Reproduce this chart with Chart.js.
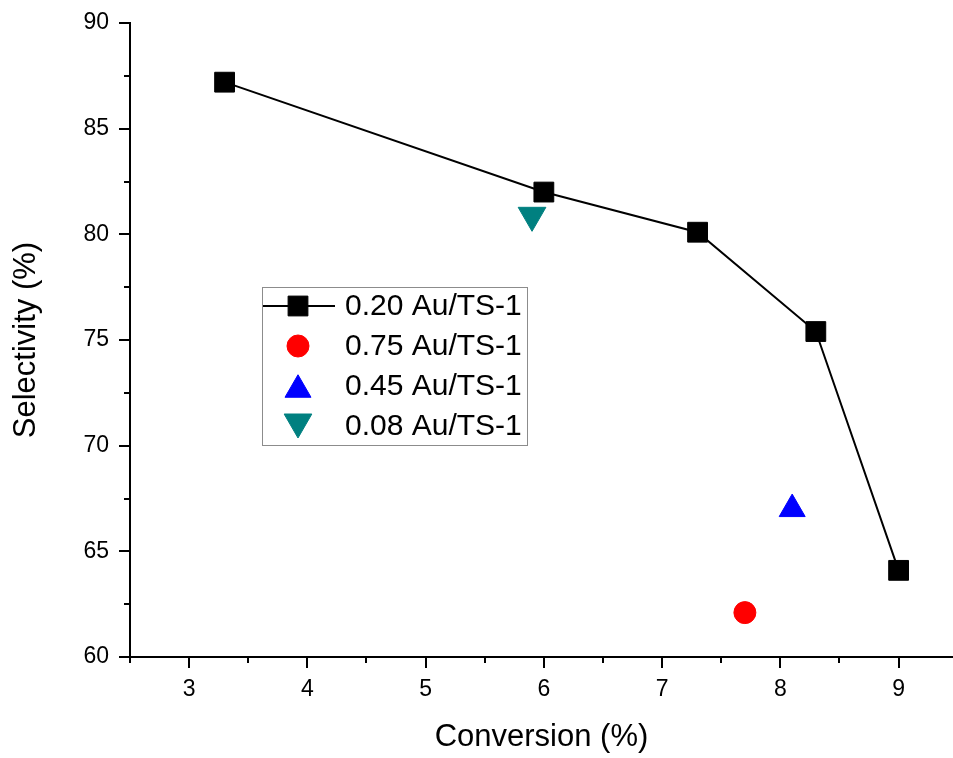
<!DOCTYPE html>
<html>
<head>
<meta charset="utf-8">
<script src="https://cdn.jsdelivr.net/npm/chart.js@4.4.1/dist/chart.umd.min.js"></script>
<style>
  html, body { margin: 0; padding: 0; background: #fff; overflow: hidden; }
  #wrap { position: relative; width: 953px; height: 758px; }
  canvas { display: block; }
</style>
</head>
<body>
<div id="wrap"><canvas id="selChart"></canvas></div>
<script>
// values
const seriesNames = ['0.20 Au/TS-1', '0.75 Au/TS-1', '0.45 Au/TS-1', '0.08 Au/TS-1'];
const conv020 = [3.3, 6.0, 7.3, 8.3, 9.0];
const sel020 = [87.2, 82.0, 80.1, 75.4, 64.1];
const conv075 = [7.7];
const sel075 = [62.1];
const conv045 = [8.1];
const sel045 = [67.0];
const conv008 = [5.9];
const sel008 = [80.9];
const xTicks = [3, 4, 5, 6, 7, 8, 9];
const yTicks = [60, 65, 70, 75, 80, 85, 90];

const FONT = "'Liberation Sans', Arial, sans-serif";
Chart.defaults.font.family = FONT;
Chart.defaults.color = '#000';

const toPoints = (xs, ys) => xs.map((x, i) => ({ x: x, y: ys[i] }));

// little marker helper for the legend box (same geometry as chart.js)
function drawMarker(ctx, style, x, y, r, rot) {
  ctx.beginPath();
  if (style === 'rect') {
    const s = r * Math.SQRT1_2;
    ctx.rect(x - s, y - s, 2 * s, 2 * s);
  } else if (style === 'circle') {
    ctx.arc(x, y, r, 0, Math.PI * 2);
  } else {
    let a = (rot || 0) * Math.PI / 180;
    ctx.moveTo(x + Math.sin(a) * r, y - Math.cos(a) * r);
    for (let k = 0; k < 2; k++) {
      a += Math.PI * 2 / 3;
      ctx.lineTo(x + Math.sin(a) * r, y - Math.cos(a) * r);
    }
    ctx.closePath();
  }
  ctx.fill();
  ctx.stroke();
}

// outward major/minor tick marks like the original plot
const axisTicks = {
  id: 'axisTicks',
  afterDraw(chart) {
    const { ctx, chartArea, scales: { x, y } } = chart;
    ctx.save();
    ctx.strokeStyle = '#000';
    ctx.lineWidth = 2;
    ctx.beginPath();
    xTicks.forEach(v => {
      const px = Math.round(x.getPixelForValue(v));
      ctx.moveTo(px, chartArea.bottom);
      ctx.lineTo(px, chartArea.bottom + 11);
      const pm = Math.round(x.getPixelForValue(v - 0.5));
      ctx.moveTo(pm, chartArea.bottom);
      ctx.lineTo(pm, chartArea.bottom + 6);
    });
    yTicks.forEach((v, i) => {
      const py = Math.round(y.getPixelForValue(v));
      ctx.moveTo(chartArea.left, py);
      ctx.lineTo(chartArea.left - 11, py);
      if (i < yTicks.length - 1) {
        const pm = Math.round(y.getPixelForValue(v + 2.5));
        ctx.moveTo(chartArea.left, pm);
        ctx.lineTo(chartArea.left - 6, pm);
      }
    });
    ctx.stroke();
    ctx.restore();
  }
};

// boxed legend inside the plot
const boxLegend = {
  id: 'boxLegend',
  afterDraw(chart) {
    const ctx = chart.ctx;
    ctx.save();
    ctx.strokeStyle = '#8c8c8c';
    ctx.lineWidth = 1;
    ctx.strokeRect(262.5, 287.5, 265, 158);
    chart.data.datasets.forEach((ds, i) => {
      const cy = 306 + i * 40;
      if (ds.showLine) {
        ctx.strokeStyle = ds.borderColor;
        ctx.lineWidth = ds.borderWidth;
        ctx.beginPath();
        ctx.moveTo(263, cy);
        ctx.lineTo(335, cy);
        ctx.stroke();
      }
      ctx.fillStyle = ds.pointBackgroundColor;
      ctx.strokeStyle = ds.pointBorderColor;
      ctx.lineWidth = 1;
      const rot = ds.pointRotation || 0;
      const dy = ds.pointStyle === 'triangle' ? (rot ? -ds.pointRadius / 4 : ds.pointRadius / 4) : 0;
      drawMarker(ctx, ds.pointStyle, 298, cy + dy, ds.pointRadius, rot);
      ctx.fillStyle = '#000';
      ctx.font = '30px ' + FONT;
      ctx.textBaseline = 'middle';
      ctx.fillText(ds.label, 345, cy + 1);
    });
    ctx.restore();
  }
};

const noPad = s => { s.paddingLeft = 0; s.paddingRight = 0; s.paddingTop = 0; s.paddingBottom = 0; };

new Chart(document.getElementById('selChart'), {
  type: 'scatter',
  data: {
    datasets: [
      {
        label: seriesNames[0],
        data: toPoints(conv020, sel020),
        showLine: true,
        borderColor: '#000',
        borderWidth: 2,
        pointStyle: 'rect',
        pointRadius: 14,
        pointBackgroundColor: '#000',
        pointBorderColor: '#000',
        pointBorderWidth: 1
      },
      {
        label: seriesNames[1],
        data: toPoints(conv075, sel075),
        pointStyle: 'circle',
        pointRadius: 11,
        pointBackgroundColor: '#ff0000',
        pointBorderColor: '#ff0000',
        pointBorderWidth: 1
      },
      {
        label: seriesNames[2],
        data: toPoints(conv045, sel045),
        pointStyle: 'triangle',
        pointRadius: 15,
        pointBackgroundColor: '#0000ff',
        pointBorderColor: '#0000ff',
        pointBorderWidth: 1
      },
      {
        label: seriesNames[3],
        data: toPoints(conv008, sel008),
        pointStyle: 'triangle',
        pointRotation: 180,
        pointRadius: 16,
        pointBackgroundColor: '#008080',
        pointBorderColor: '#008080',
        pointBorderWidth: 1
      }
    ]
  },
  options: {
    responsive: true,
    maintainAspectRatio: false,
    animation: false,
    events: [],
    layout: { autoPadding: false, padding: { top: 23, right: 0, left: 0, bottom: 0 } },
    plugins: {
      legend: { display: false },
      tooltip: { enabled: false }
    },
    scales: {
      x: {
        type: 'linear',
        min: 2.5,
        max: 9.46,
        afterBuildTicks: s => { s.ticks = xTicks.map(v => ({ value: v })); },
        afterFit: s => { s.height = 101; noPad(s); },
        grid: { display: false },
        border: { display: true, color: '#000', width: 2 },
        ticks: { font: { size: 23 }, color: '#000', padding: 11, maxRotation: 0, autoSkip: false },
        title: { display: true, text: 'Conversion (%)', font: { size: 31 }, color: '#000', padding: { top: 0, bottom: 2 } }
      },
      y: {
        min: 60,
        max: 90,
        afterBuildTicks: s => { s.ticks = yTicks.map(v => ({ value: v })); },
        afterFit: s => { s.width = 130; noPad(s); },
        grid: { display: false },
        border: { display: true, color: '#000', width: 2 },
        ticks: { font: { size: 23 }, color: '#000', padding: 13, autoSkip: false },
        title: { display: true, text: 'Selectivity (%)', font: { size: 31 }, color: '#000', padding: { top: 8, bottom: 0 } }
      }
    }
  },
  plugins: [axisTicks, boxLegend]
});
</script>
</body>
</html>
